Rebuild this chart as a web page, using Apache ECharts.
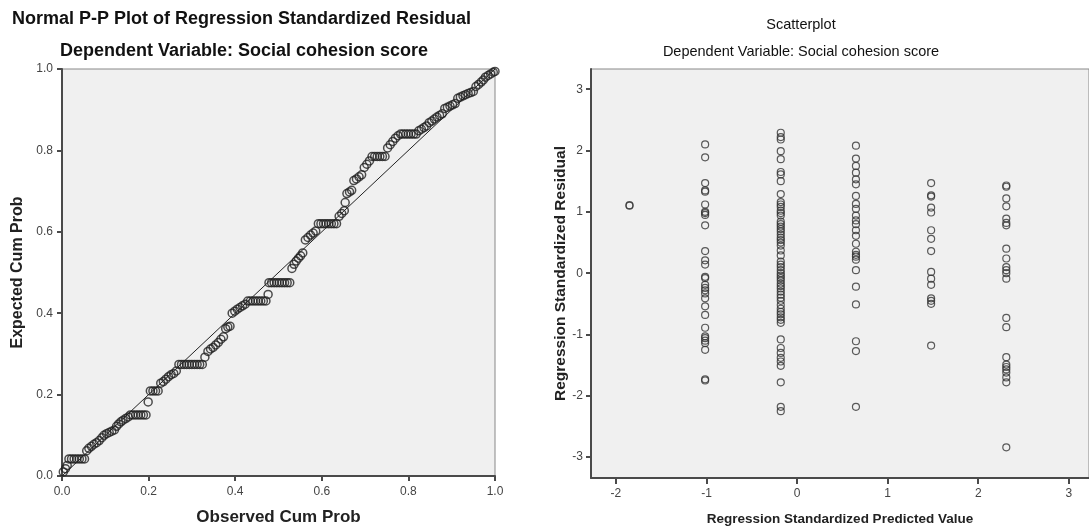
<!DOCTYPE html>
<html><head><meta charset="utf-8">
<script src="https://cdn.jsdelivr.net/npm/echarts@6/dist/echarts.min.js"></script>
<style>html,body{margin:0;padding:0;background:#fff}#c{width:1089px;height:531px}</style>
</head><body><div id="c"></div>
<script>
// ---------- Normal P-P plot data ----------
const ppObserved = [
0.003,0.008,0.012,
0.016,0.022,0.028,0.034,0.040,0.046,0.052,
0.057,0.062,0.068,0.074,0.080,0.086,0.092,0.097,
0.103,0.109,0.115,0.121,
0.126,0.131,0.136,0.141,0.147,0.153,0.158,
0.164,0.170,0.176,0.182,0.188,0.194,
0.199,
0.204,0.210,0.216,0.222,
0.228,0.234,0.240,0.246,0.252,0.258,0.264,
0.270,0.276,0.282,0.288,0.294,0.300,0.306,0.312,0.318,0.324,
0.330,0.337,0.343,0.349,0.355,0.361,0.367,0.373,0.378,0.383,0.388,
0.393,0.399,0.405,0.411,0.417,0.423,
0.429,0.435,0.441,0.447,0.453,0.459,0.465,0.471,
0.476,
0.478,0.484,0.490,0.496,0.502,0.508,0.514,0.520,0.526,
0.531,0.536,0.541,0.546,0.551,0.556,
0.562,0.568,0.574,0.580,0.586,
0.592,0.598,0.604,0.610,0.616,0.622,0.628,0.634,
0.640,0.646,0.652,
0.654,
0.658,0.664,0.669,
0.674,0.680,0.686,0.692,
0.698,0.704,0.710,
0.716,0.722,0.728,0.734,0.740,0.746,
0.752,0.758,0.764,0.770,0.776,
0.782,0.788,0.794,0.800,0.806,0.812,0.818,
0.824,0.830,0.836,0.842,
0.848,0.854,0.860,0.866,0.872,0.878,
0.884,0.890,0.896,0.902,0.908,
0.914,0.920,0.926,0.932,0.938,0.944,0.950,
0.956,0.962,0.968,0.973,
0.978,0.984,0.990,0.996,1.000
];
const ppExpected = [
0.010,0.018,0.026,
0.042,0.042,0.042,0.042,0.042,0.042,0.042,
0.062,0.068,0.073,0.078,0.082,0.087,0.094,0.100,
0.104,0.107,0.110,0.113,
0.122,0.128,0.133,0.137,0.141,0.145,0.150,
0.150,0.150,0.150,0.150,0.150,0.150,
0.182,
0.209,0.209,0.209,0.209,
0.228,0.232,0.238,0.244,0.249,0.252,0.258,
0.274,0.274,0.274,0.274,0.274,0.274,0.274,0.274,0.274,0.274,
0.292,0.306,0.312,0.316,0.322,0.328,0.336,0.342,0.362,0.366,0.368,
0.400,0.405,0.410,0.414,0.418,0.422,
0.430,0.430,0.430,0.430,0.430,0.430,0.430,0.430,
0.446,
0.475,0.475,0.475,0.475,0.475,0.475,0.475,0.475,0.475,
0.510,0.520,0.528,0.535,0.541,0.548,
0.580,0.586,0.592,0.597,0.602,
0.620,0.620,0.620,0.620,0.620,0.620,0.620,0.620,
0.638,0.645,0.652,
0.672,
0.694,0.698,0.702,
0.726,0.730,0.735,0.740,
0.758,0.766,0.774,
0.785,0.785,0.785,0.785,0.785,0.785,
0.806,0.814,0.822,0.830,0.836,
0.840,0.840,0.840,0.840,0.840,0.840,0.840,
0.848,0.852,0.856,0.860,
0.868,0.872,0.877,0.882,0.886,0.890,
0.903,0.906,0.909,0.912,0.915,
0.928,0.931,0.934,0.937,0.940,0.942,0.945,
0.957,0.962,0.968,0.973,
0.980,0.984,0.988,0.992,0.994
];
const refLineX = [0, 1];
const refLineY = [0, 1];
const probTicks = [0, 0.2, 0.4, 0.6, 0.8, 1.0];

// ---------- Scatterplot data (standardized predicted value levels & residuals) ----------
const predictedLevels = [-1.85, -1.015, -0.18, 0.65, 1.48, 2.31];
const residualsLevel1 = [1.10, 1.11];
const residualsLevel2 = [2.10,1.89,1.47,1.35,1.33,1.12,1.00,0.98,0.95,0.78,0.36,0.21,0.14,-0.06,-0.08,-0.19,-0.24,-0.28,-0.33,-0.41,-0.54,-0.68,-0.89,-1.03,-1.06,-1.10,-1.14,-1.25,-1.73,-1.75];
const residualsLevel3 = [2.29,2.22,2.18,1.99,1.86,1.65,1.61,1.50,1.29,1.16,1.12,1.08,1.02,0.98,0.94,0.84,0.80,0.76,0.72,0.68,0.63,0.58,0.54,0.50,0.45,0.37,0.29,0.19,0.14,0.10,0.05,0.00,-0.04,-0.08,-0.12,-0.17,-0.21,-0.25,-0.30,-0.35,-0.40,-0.45,-0.52,-0.58,-0.63,-0.67,-0.72,-0.76,-0.81,-1.08,-1.22,-1.30,-1.38,-1.44,-1.51,-1.78,-2.18,-2.25];
const residualsLevel4 = [2.08,1.87,1.75,1.64,1.53,1.45,1.26,1.13,1.05,0.94,0.86,0.80,0.70,0.61,0.48,0.35,0.30,0.27,0.22,0.05,-0.22,-0.51,-1.11,-1.27,-2.18];
const residualsLevel5 = [1.47,1.27,1.25,1.07,0.99,0.70,0.56,0.36,0.02,-0.09,-0.19,-0.41,-0.45,-0.50,-1.18];
const residualsLevel6 = [1.43,1.41,1.22,1.09,0.89,0.82,0.78,0.40,0.24,0.10,0.05,0.00,-0.09,-0.73,-0.88,-1.37,-1.49,-1.53,-1.57,-1.62,-1.70,-1.78,-2.84];
const residualTicks = [-3, -2, -1, 0, 1, 2, 3];
const predictedTicks = [-2, -1, 0, 1, 2, 3];

const residualGroups = [residualsLevel1, residualsLevel2, residualsLevel3, residualsLevel4, residualsLevel5, residualsLevel6];
const scatterData = [];
residualGroups.forEach((g, i) => g.forEach(r => scatterData.push([predictedLevels[i], r])));
const ppData = ppObserved.map((x, i) => [x, ppExpected[i]]);
const refData = refLineX.map((x, i) => [x, refLineY[i]]);

const SANS = "'Liberation Sans', Arial, sans-serif";
const axisLineStyle = { color: '#4a4a4a', width: 2 };

const chart = echarts.init(document.getElementById('c'), null, { renderer: 'canvas' });
chart.setOption({
  animation: false,
  backgroundColor: '#fff',
  graphic: [
    { type: 'text', left: 12, top: 10, style: { text: 'Normal P-P Plot of Regression Standardized Residual', font: "bold 18px " + SANS, fill: '#111' } },
    { type: 'text', left: 60, top: 42, style: { text: 'Dependent Variable: Social cohesion score', font: "bold 18px " + SANS, fill: '#111' } },
    { type: 'text', x: 801, y: 25, style: { text: 'Scatterplot', font: "14.5px " + SANS, fill: '#111', align: 'center', verticalAlign: 'middle' } },
    { type: 'text', x: 801, y: 52, style: { text: 'Dependent Variable: Social cohesion score', font: "14.5px " + SANS, fill: '#111', align: 'center', verticalAlign: 'middle' } }
  ],
  grid: [
    { left: 62, top: 69, width: 433, height: 411, show: true, backgroundColor: '#f0f0f0', borderColor: '#888', borderWidth: 1 },
    { left: 591, top: 69, right: -3, height: 412, show: true, backgroundColor: '#f0f0f0', borderColor: '#888', borderWidth: 1 }
  ],
  xAxis: [
    { gridIndex: 0, type: 'value', min: 0, max: 1, interval: 0.2,
      axisLine: { show: true, onZero: false, lineStyle: axisLineStyle },
      axisTick: { show: true, length: 5, lineStyle: axisLineStyle },
      axisLabel: { formatter: v => v.toFixed(1), color: '#444', fontSize: 12, fontFamily: SANS, margin: 10 },
      splitLine: { show: false },
      name: 'Observed Cum Prob', nameLocation: 'middle', nameGap: 33,
      nameTextStyle: { fontWeight: 'bold', fontSize: 17, color: '#222', fontFamily: SANS } },
    { gridIndex: 1, type: 'value', min: -2.275, max: 3.223,
      axisLine: { show: true, onZero: false, lineStyle: axisLineStyle },
      axisTick: { show: true, length: 6, customValues: predictedTicks, lineStyle: axisLineStyle },
      axisLabel: { customValues: predictedTicks, color: '#444', fontSize: 12, fontFamily: SANS, margin: 10 },
      splitLine: { show: false },
      name: 'Regression Standardized Predicted Value', nameLocation: 'middle', nameGap: 34,
      nameTextStyle: { fontWeight: 'bold', fontSize: 13.5, color: '#222', fontFamily: SANS } }
  ],
  yAxis: [
    { gridIndex: 0, type: 'value', min: 0, max: 1, interval: 0.2,
      axisLine: { show: true, onZero: false, lineStyle: axisLineStyle },
      axisTick: { show: true, length: 5, lineStyle: axisLineStyle },
      axisLabel: { formatter: v => v.toFixed(1), color: '#444', fontSize: 12, fontFamily: SANS, margin: 9 },
      splitLine: { show: false },
      name: 'Expected Cum Prob', nameLocation: 'middle', nameGap: 36,
      nameTextStyle: { fontWeight: 'bold', fontSize: 16, color: '#222', fontFamily: SANS } },
    { gridIndex: 1, type: 'value', min: -3.34, max: 3.33,
      axisLine: { show: true, onZero: false, lineStyle: axisLineStyle },
      axisTick: { show: true, length: 5, customValues: residualTicks, lineStyle: axisLineStyle },
      axisLabel: { customValues: residualTicks, color: '#444', fontSize: 12, fontFamily: SANS, margin: 8 },
      splitLine: { show: false },
      name: 'Regression Standardized Residual', nameLocation: 'middle', nameGap: 21,
      nameTextStyle: { fontWeight: 'bold', fontSize: 15.5, color: '#222', fontFamily: SANS } }
  ],
  series: [
    { type: 'line', xAxisIndex: 0, yAxisIndex: 0, data: refData, symbol: 'none',
      lineStyle: { color: '#222', width: 1 }, z: 3 },
    { type: 'scatter', xAxisIndex: 0, yAxisIndex: 0, data: ppData, symbol: 'circle', symbolSize: 8,
      itemStyle: { color: 'rgba(0,0,0,0)', borderColor: '#222', borderWidth: 1.5 }, z: 4 },
    { type: 'scatter', xAxisIndex: 1, yAxisIndex: 1, data: scatterData, symbol: 'circle', symbolSize: 7,
      itemStyle: { color: 'rgba(0,0,0,0)', borderColor: '#333', borderWidth: 1.2 }, z: 4 }
  ]
});
</script>
</body></html>
